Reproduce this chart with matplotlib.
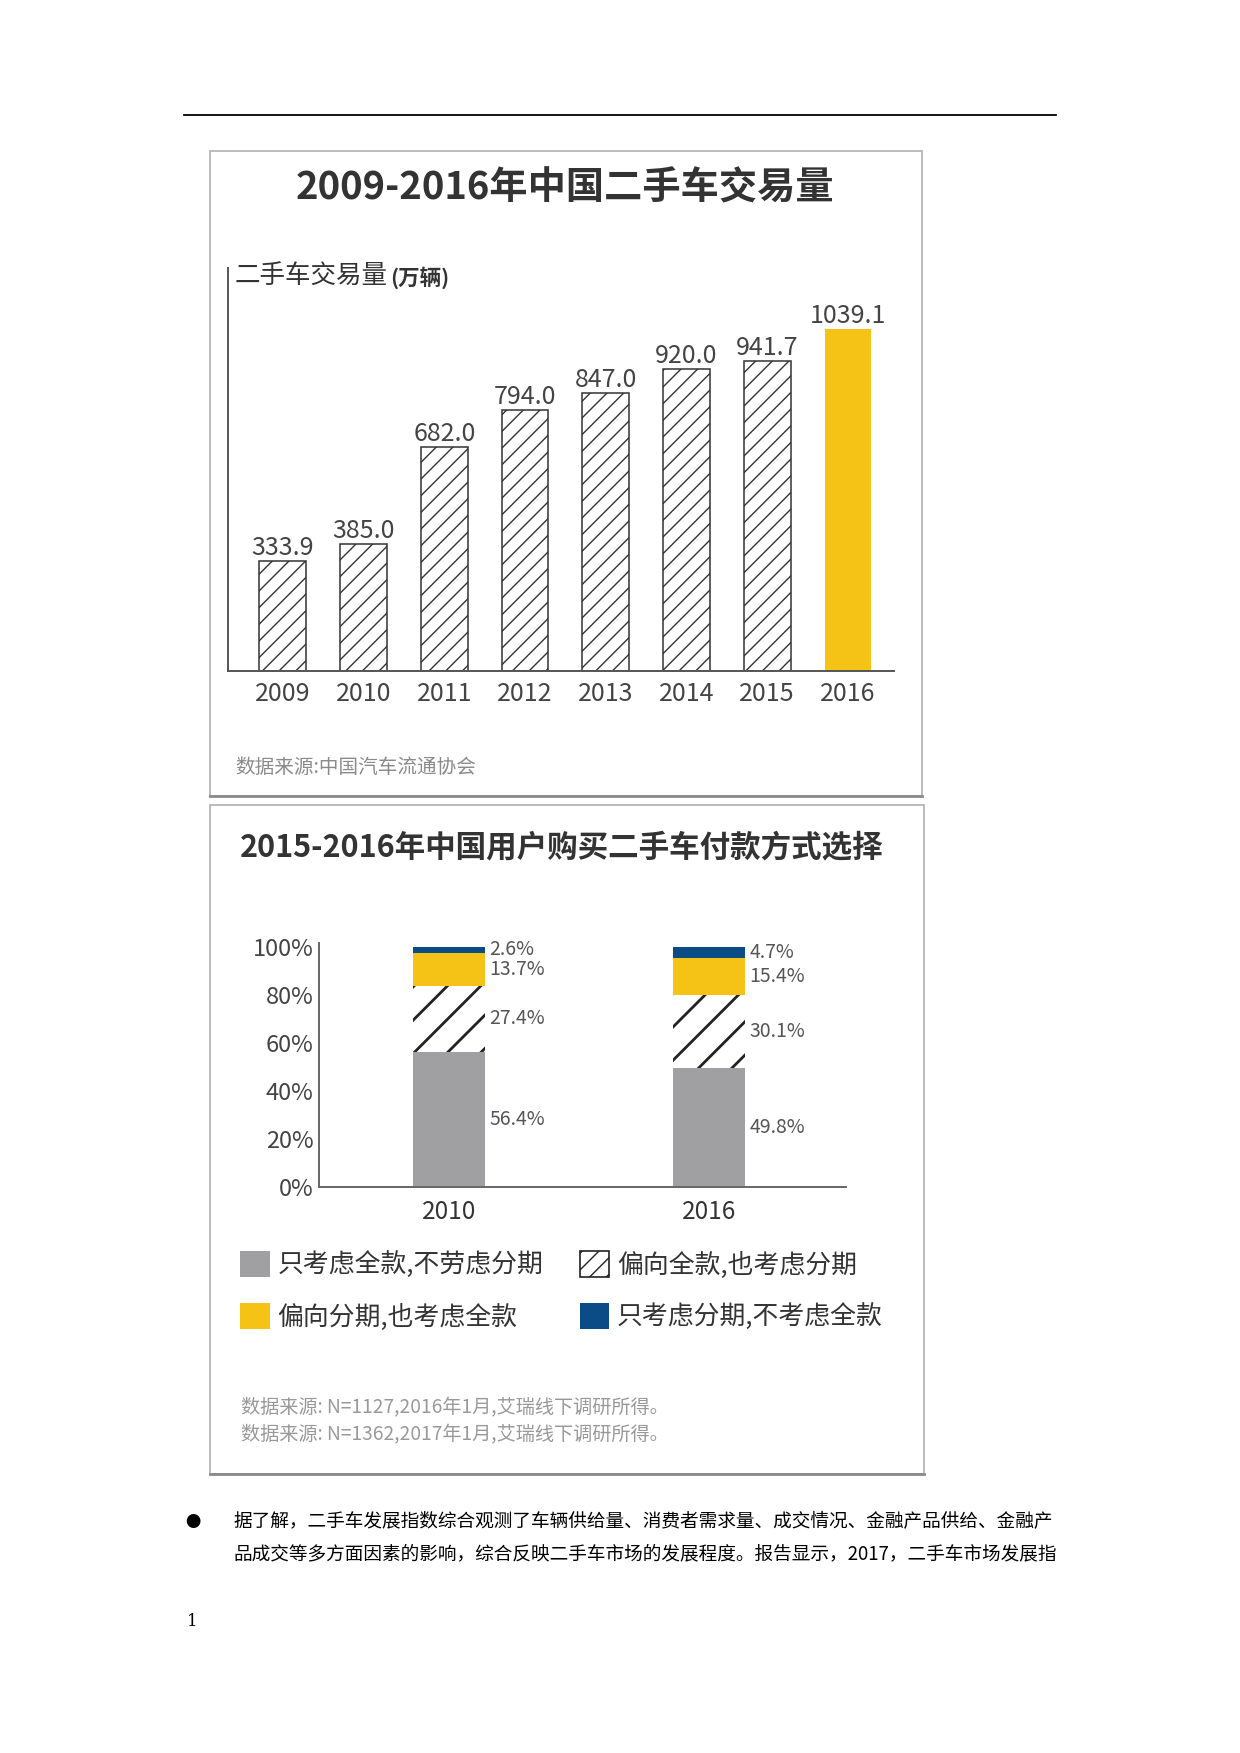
import matplotlib
matplotlib.use('Agg')
import matplotlib.pyplot as plt
import matplotlib.patches as mpatches
from matplotlib.lines import Line2D

plt.rcParams['font.family'] = ['Noto Sans CJK SC', 'DejaVu Sans']
plt.rcParams['hatch.linewidth'] = 1.0

# Data
years = ['2009', '2010', '2011', '2012', '2013', '2014', '2015', '2016']
volumes = [333.9, 385.0, 682.0, 794.0, 847.0, 920.0, 941.7, 1039.1]

pay_years = ['2010', '2016']
full_only = [56.4, 49.8]
lean_full = [27.4, 30.1]
lean_install = [13.7, 15.4]
install_only = [2.6, 4.7]
pay_labels = ['只考虑全款,不劳虑分期', '偏向全款,也考虑分期',
              '偏向分期,也考虑全款', '只考虑分期,不考虑全款']

source1 = '数据来源:中国汽车流通协会'
source2 = ['数据来源: N=1127,2016年1月,艾瑞线下调研所得。',
           '数据来源: N=1362,2017年1月,艾瑞线下调研所得。']
para = ['据了解，二手车发展指数综合观测了车辆供给量、消费者需求量、成交情况、金融产品供给、金融产',
        '品成交等多方面因素的影响，综合反映二手车市场的发展程度。报告显示，2017，二手车市场发展指']

W, H = 1240, 1753
YELLOW = '#F5C316'
NAVY = '#0B4C86'
GRAY = '#A09FA2'

def fx(x):
    return x / W

def fy(y):
    return 1 - y / H

fig = plt.figure(figsize=(W / 100, H / 100), dpi=100)

# page rule
fig.add_artist(Line2D([fx(184), fx(1056)], [fy(115), fy(115)], color='black', lw=1.3))

# panel frames
for (x0, y0, x1, y1) in [(210, 151, 922, 796), (210, 805, 924, 1474)]:
    fig.add_artist(mpatches.Rectangle((fx(x0), fy(y1)), fx(x1) - fx(x0), fy(y0) - fy(y1),
                                      transform=fig.transFigure, fill=False,
                                      edgecolor='#b5b5b5', lw=1.3))
    fig.add_artist(Line2D([fx(x0), fx(x1)], [fy(y1), fy(y1)], color='#8a8a8a', lw=2))

# ---- panel 1 ----
fig.text(fx(565), fy(188), '2009-2016年中国二手车交易量', ha='center', va='center',
         fontsize=27.5, fontweight='bold', color='#333333')
fig.text(fx(235), fy(277), '二手车交易量', ha='left', va='center', fontsize=18.4, color='#333333')
fig.text(fx(390), fy(278), '(万辆)', ha='left', va='center', fontsize=15.5, fontweight='bold',
         color='#333333')

ax1 = fig.add_axes([fx(228), fy(671), (894 - 228) / W, (671 - 268) / H])
x = list(range(len(years)))
bars = ax1.bar(x, volumes, width=0.58, facecolor='white', edgecolor='#333333',
               hatch='//', lw=1.1)
bars[-1].set_facecolor(YELLOW)
bars[-1].set_hatch(None)
bars[-1].set_linewidth(0)
for xi, v in zip(x, volumes):
    ax1.annotate(f'{v:.1f}', (xi, v), xytext=(0, 0), textcoords='offset points',
                 ha='center', va='bottom', fontsize=18, color='#444444')
ax1.set_xlim(-0.68, 7.57)
ax1.set_ylim(0, 1226)
ax1.set_xticks(x)
ax1.set_xticklabels(years)
ax1.set_yticks([])
ax1.tick_params(axis='x', length=0, pad=7, labelsize=18, labelcolor='#444444')
for s in ['top', 'right']:
    ax1.spines[s].set_visible(False)
for s in ['left', 'bottom']:
    ax1.spines[s].set_color('#555555')
    ax1.spines[s].set_linewidth(1.4)

fig.text(fx(235), fy(767), source1, ha='left', va='center', fontsize=14.1, color='#8a8a8a')

# ---- panel 2 ----
fig.text(fx(562), fy(847), '2015-2016年中国用户购买二手车付款方式选择', ha='center', va='center',
         fontsize=22, fontweight='bold', color='#333333')

ax2 = fig.add_axes([fx(319), fy(1187), (846 - 319) / W, (1187 - 943) / H])
px = [0, 1]
bw = 0.277
b1 = ax2.bar(px, full_only, width=bw, color=GRAY, lw=0)
bottom = full_only
b2 = ax2.bar(px, lean_full, width=bw, bottom=bottom, facecolor='white', edgecolor='#222222',
             hatch='/', lw=0)
for p in b2:
    if hasattr(p, 'set_hatch_linewidth'):
        p.set_hatch_linewidth(2.0)
bottom = [a + b for a, b in zip(bottom, lean_full)]
b3 = ax2.bar(px, lean_install, width=bw, bottom=bottom, color=YELLOW, lw=0)
bottom2 = [a + b for a, b in zip(bottom, lean_install)]
b4 = ax2.bar(px, install_only, width=bw, bottom=bottom2, color=NAVY, lw=0)

starts = [0, 0]
for series in [full_only, lean_full, lean_install, install_only]:
    for i, v in enumerate(series):
        ax2.annotate(f'{v:.1f}%', (px[i] + bw / 2, starts[i] + v / 2), xytext=(3, 0),
                     textcoords='offset points', ha='left', va='center', fontsize=14,
                     color='#555555')
        starts[i] += v

ax2.set_xlim(-0.5, 1.527)
ax2.set_ylim(0, 101.7)
ax2.set_yticks([0, 20, 40, 60, 80, 100])
ax2.set_yticklabels(['0%', '20%', '40%', '60%', '80%', '100%'])
ax2.set_xticks(px)
ax2.set_xticklabels(pay_years)
ax2.tick_params(axis='y', length=0, pad=4, labelsize=17, labelcolor='#444444')
ax2.tick_params(axis='x', length=0, pad=8.5, labelsize=17.5, labelcolor='#333333')
for s in ['top', 'right']:
    ax2.spines[s].set_visible(False)
for s in ['left', 'bottom']:
    ax2.spines[s].set_color('#666666')
    ax2.spines[s].set_linewidth(1.4)

handles = [mpatches.Patch(facecolor=GRAY, lw=0),
           mpatches.Patch(facecolor=YELLOW, lw=0),
           mpatches.Patch(facecolor='white', edgecolor='#222222', hatch='//', lw=1.2),
           mpatches.Patch(facecolor=NAVY, lw=0)]
labels = [pay_labels[0], pay_labels[2], pay_labels[1], pay_labels[3]]
fig.legend(handles, labels, loc='upper left', bbox_to_anchor=(fx(240), fy(1251)),
           ncol=2, frameon=False, fontsize=18.6, borderpad=0, borderaxespad=0,
           handlelength=1.15, handleheight=1.15, handletextpad=0.3, columnspacing=1.4,
           labelspacing=0.95, labelcolor='#333333')

fig.text(fx(241), fy(1408), source2[0], ha='left', va='center', fontsize=13.8, color='#999999')
fig.text(fx(241), fy(1435), source2[1], ha='left', va='center', fontsize=13.8, color='#999999')

# ---- page text ----
fig.text(fx(193), fy(1522), '●', ha='center', va='center', fontsize=11, color='black')
fig.text(fx(233), fy(1522), para[0], ha='left', va='center', fontsize=13.43, color='black')
fig.text(fx(233), fy(1554), para[1], ha='left', va='center', fontsize=13.43, color='black')
fig.text(fx(192), fy(1621), '1', ha='center', va='center', fontsize=12, color='black',
         family='DejaVu Serif')

fig.savefig('out.png', dpi=100)
